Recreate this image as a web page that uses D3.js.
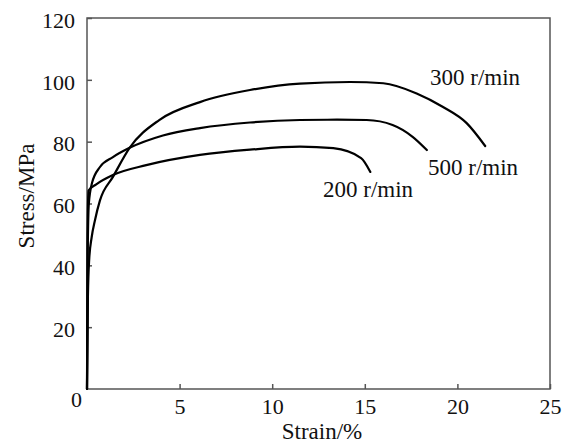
<!DOCTYPE html>
<html>
<head>
<meta charset="utf-8">
<script src="https://cdn.jsdelivr.net/npm/d3@7"></script>
<style>
  html, body { margin: 0; padding: 0; background: #fff; }
  svg { display: block; }
</style>
</head>
<body>
<svg id="chart" width="569" height="447"></svg>
<script>
// ---- data ----
const xTicks = [5, 10, 15, 20, 25];
const yTicks = [20, 40, 60, 80, 100, 120];

const strain300 = [0, 0.05, 0.12, 0.25, 0.43, 0.7, 1.4, 2.3, 3.9, 6.1, 8.8, 11.5, 14.2, 16.0, 17.8, 19.2, 20.5, 21.5];
const stress300 = [0, 30, 42, 49, 54.6, 61, 68.6, 78, 87, 92.8, 96.7, 98.8, 99.3, 98.9, 95.6, 91.3, 86, 78.6];

const strain500 = [0, 0.04, 0.1, 0.27, 0.7, 1.4, 2.3, 4.1, 6.1, 8.8, 11.5, 13.5, 15.1, 16.5, 17.6, 18.35];
const stress500 = [0, 45, 60, 66.6, 71.8, 75, 78, 82, 84.4, 86.2, 87, 87.1, 87, 85.4, 81.5, 77.3];

const strain200 = [0, 0.03, 0.08, 0.5, 1.4, 3.2, 6.1, 8.8, 11.5, 13.3, 14.8, 15.3];
const stress200 = [0, 50, 64.2, 66.2, 69.2, 72.4, 75.7, 77.4, 78.4, 77.9, 74.7, 70.2];

const seriesNames = ["300 r/min", "500 r/min", "200 r/min"];

// ---- layout ----
const FONT = "'Liberation Serif', 'Times New Roman', serif";
const svg = d3.select("#chart");
const pL = 87, pR = 550, pT = 18, pB = 389;

const x = d3.scaleLinear().domain([0, 25]).range([pL, pR]);
const y = d3.scaleLinear().domain([0, 120]).range([pB, pT]);

const axisColor = "#555";

// frame
svg.append("rect")
  .attr("x", pL).attr("y", pT)
  .attr("width", pR - pL).attr("height", pB - pT)
  .attr("fill", "none").attr("stroke", axisColor).attr("stroke-width", 1.5);

// x axis ticks (inward)
const xAxis = d3.axisBottom(x).tickValues(xTicks).tickSize(-5).tickPadding(12);
const gx = svg.append("g").attr("transform", `translate(0,${pB})`).call(xAxis);
gx.select(".domain").remove();
gx.selectAll(".tick line").attr("stroke", axisColor).attr("stroke-width", 1.5);
gx.selectAll(".tick text")
  .style("font-family", FONT).style("font-size", "22px").attr("fill", "#111")
  .attr("y", 9).attr("dy", "0.71em");

// y axis ticks (inward)
const yAxis = d3.axisLeft(y).tickValues(yTicks).tickSize(-5).tickPadding(12);
const gy = svg.append("g").attr("transform", `translate(${pL},0)`).call(yAxis);
gy.select(".domain").remove();
gy.selectAll(".tick line").attr("stroke", axisColor).attr("stroke-width", 1.5);
gy.selectAll(".tick text")
  .style("font-family", FONT).style("font-size", "22px").attr("fill", "#111")
  .attr("x", -12).attr("dy", "0.42em");

// shared origin label
svg.append("text")
  .attr("x", pL - 5).attr("y", pB + 18)
  .attr("text-anchor", "end")
  .style("font-family", FONT).style("font-size", "22px").attr("fill", "#111")
  .text("0");

// axis titles
svg.append("text")
  .attr("x", 322).attr("y", 439)
  .attr("text-anchor", "middle")
  .style("font-family", FONT).style("font-size", "23px").attr("fill", "#111")
  .text("Strain/%");

svg.append("text")
  .attr("transform", "translate(34,196) rotate(-90)")
  .attr("text-anchor", "middle")
  .style("font-family", FONT).style("font-size", "23px").attr("fill", "#111")
  .text("Stress/MPa");

// curves
const line = d3.line()
  .x(d => x(d[0])).y(d => y(d[1]))
  .curve(d3.curveMonotoneX);

const curves = [
  d3.zip(strain300, stress300),
  d3.zip(strain500, stress500),
  d3.zip(strain200, stress200)
];

svg.append("g").selectAll("path")
  .data(curves)
  .join("path")
  .attr("d", d => line(d))
  .attr("fill", "none")
  .attr("stroke", "#000")
  .attr("stroke-width", 2.2)
  .attr("stroke-linejoin", "round")
  .attr("stroke-linecap", "round");

// series labels
const labelPos = [[430, 85], [428, 175], [323, 197]];
svg.append("g").selectAll("text")
  .data(seriesNames)
  .join("text")
  .attr("x", (d, i) => labelPos[i][0])
  .attr("y", (d, i) => labelPos[i][1])
  .style("font-family", FONT).style("font-size", "23px").attr("fill", "#111")
  .text(d => d);
</script>
</body>
</html>
